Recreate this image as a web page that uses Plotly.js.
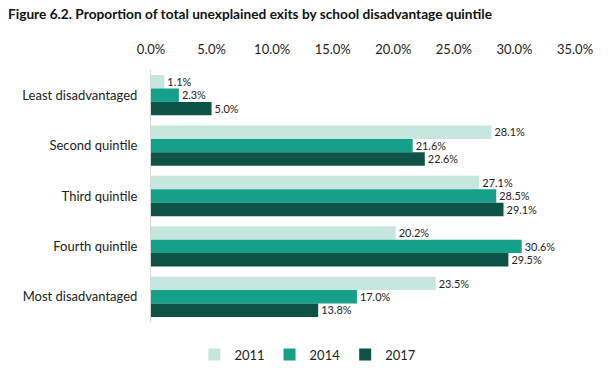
<!DOCTYPE html>
<html>
<head>
<meta charset="utf-8">
<script src="https://cdn.plot.ly/plotly-3.0.1.min.js"></script>
<style>html,body{margin:0;padding:0;background:#fff;}#chart{width:612px;height:385px;}</style>
</head>
<body>
<div id="chart"></div>
<script>
const categories = ["Least disadvantaged", "Second quintile", "Third quintile", "Fourth quintile", "Most disadvantaged"];
const years = ["2011", "2014", "2017"];
const values2011 = [1.1, 28.1, 27.1, 20.2, 23.5];
const values2014 = [2.3, 21.6, 28.5, 30.6, 17.0];
const values2017 = [5.0, 22.6, 29.1, 29.5, 13.8];
const tickValues = [0, 5, 10, 15, 20, 25, 30, 35];
const tickLabels = ["0.0%", "5.0%", "10.0%", "15.0%", "20.0%", "25.0%", "30.0%", "35.0%"];
const colors = ["#c5e7df", "#15a08a", "#0d5446"];

const series = [values2011, values2014, values2017];
const FONT = "Lato, 'Open Sans', sans-serif";
const traces = series.map((vals, i) => ({
  type: "bar",
  orientation: "h",
  name: years[i],
  y: categories,
  x: vals,
  marker: {color: colors[i]},
  text: vals.map(v => v.toFixed(1) + "%"),
  textposition: "outside",
  textfont: {family: FONT, size: 13, color: "#222"},
  cliponaxis: false,
  hoverinfo: "none"
}));

const layout = {
  width: 612, height: 385,
  margin: {l: 151, r: 37, t: 70, b: 63},
  paper_bgcolor: "#fff", plot_bgcolor: "#fff",
  barmode: "group",
  bargap: 0.2,
  bargroupgap: 0,
  font: {family: FONT, size: 13, color: "#222"},
  title: {
    text: "<b>Figure 6.2. Proportion of total unexplained exits by school disadvantage quintile</b>",
    font: {family: FONT, size: 13.7, color: "#111"},
    x: 0.013, xanchor: "left", xref: "container",
    y: 0.963, yanchor: "middle", yref: "container"
  },
  xaxis: {
    side: "top",
    range: [0, 35],
    tickvals: tickValues,
    ticktext: tickLabels,
    showgrid: false,
    zeroline: false,
    showline: false,
    ticks: "",
    ticklabelstandoff: 12,
    tickfont: {family: FONT, size: 13, color: "#222"},
    fixedrange: true
  },
  yaxis: {
    autorange: "reversed",
    showgrid: false,
    zeroline: false,
    showline: true,
    linecolor: "#d9d9d9",
    linewidth: 1,
    ticks: "",
    ticklabelstandoff: 10,
    tickfont: {family: FONT, size: 13, color: "#222"},
    fixedrange: true
  },
  legend: {
    orientation: "h",
    x: 0.37, xanchor: "center",
    y: -0.07, yanchor: "top",
    font: {family: FONT, size: 13, color: "#222"},
    itemwidth: 30,
    traceorder: "normal"
  },
  showlegend: true
};

Plotly.newPlot("chart", traces, layout, {displayModeBar: false, staticPlot: true});
</script>
</body>
</html>
